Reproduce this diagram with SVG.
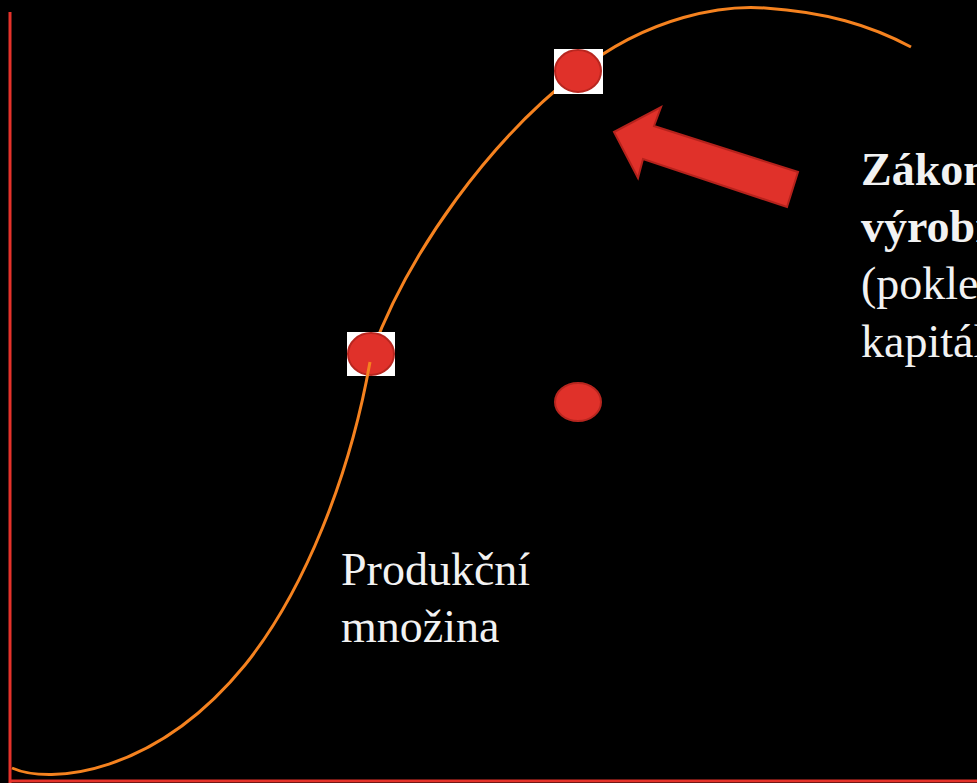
<svg xmlns="http://www.w3.org/2000/svg" width="977" height="783" viewBox="0 0 977 783">
<style>
.axis{stroke:#e5322a;stroke-width:3;fill:none}
.curve{stroke:#f5821f;stroke-width:3;fill:none}
.dot{fill:#e0312a;stroke:#b8261f;stroke-width:2}
.bg{fill:#ffffff}
.txt{font-family:"Liberation Serif","Times New Roman",serif;font-size:46px;fill:#f2f2f2}
.b{font-weight:bold}
</style>
<rect width="977" height="783" fill="#000"/>
<g id="axes">
<line class="axis" x1="10" y1="12" x2="10" y2="783"/>
<line class="axis" x1="9" y1="781" x2="977" y2="781"/>
</g>
<g id="connectors">
<path id="upper-curve" class="curve" d="M372,352 C410,250 490,140 578,72 C650,15 725,5 765,8 C825,12 870,25 911,47"/>
</g>
<g id="node-top">
<rect class="bg" x="554" y="49" width="49" height="45"/>
<ellipse class="dot" cx="578" cy="71" rx="23" ry="21"/>
</g>
<g id="node-mid">
<rect class="bg" x="347" y="332" width="48" height="44"/>
<ellipse class="dot" cx="371" cy="354" rx="23" ry="21"/>
</g>
<g id="node-lower">
<ellipse class="dot" cx="578" cy="402" rx="23" ry="19"/>
</g>
<g id="lower-curve-group">
<path id="lower-curve" class="curve" d="M12,768 C50,785 155,775 245,665 C305,590 350,475 370,362"/>
</g>
<g id="arrow">
<polygon points="614,132 661,107 654,126 798,172 787,207 643,159 638,178" fill="#e0312a" stroke="#b5221c" stroke-width="2" stroke-linejoin="miter"/>
</g>
<g id="label-law">
<text class="txt b" x="861" y="185">Zákon</text>
<text class="txt b" x="861" y="242">výrobn</text>
<text class="txt" x="861" y="299">(pokle</text>
<text class="txt" x="861" y="357">kapitál</text>
</g>
<g id="label-set">
<text class="txt" x="341" y="585">Produkční</text>
<text class="txt" x="341" y="642">množina</text>
</g>
</svg>
